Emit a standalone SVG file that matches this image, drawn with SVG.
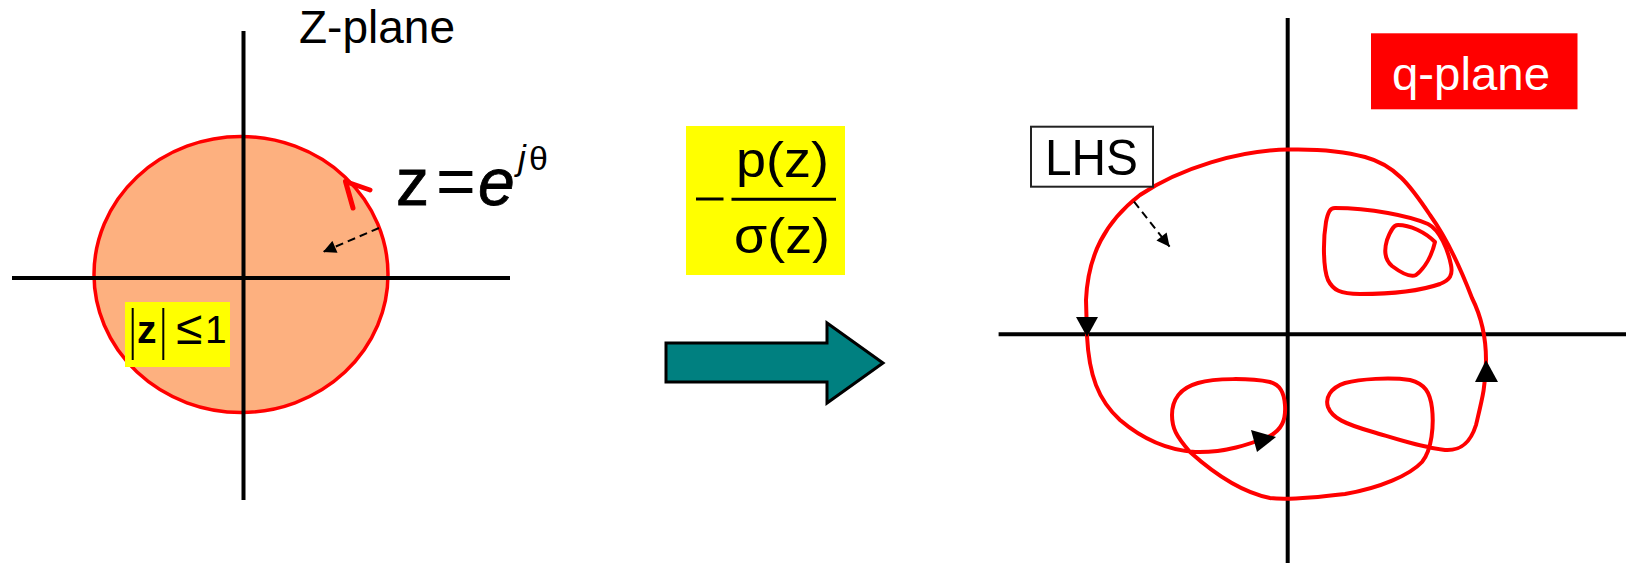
<svg xmlns="http://www.w3.org/2000/svg" width="1626" height="563" viewBox="0 0 1626 563">
<style>
text{font-family:"Liberation Sans",Arial,sans-serif;fill:#000}
.axis{stroke:#000;stroke-width:4;fill:none}
.red{stroke:#FF0000;stroke-width:4;fill:none;stroke-linejoin:round}
.dash{stroke:#000;stroke-width:2;stroke-dasharray:8 5;fill:none}
.tri{fill:#000;stroke:none}
.heavy{stroke:#000;stroke-width:0.8}
</style>
<defs>
<marker id="ah" viewBox="0 0 10 10" refX="10" refY="5" markerUnits="userSpaceOnUse" markerWidth="15" markerHeight="13" orient="auto">
<path d="M0,0 L10,5 L0,10 z" fill="#000"/>
</marker>
</defs>
<rect width="1626" height="563" fill="#fff"/>

<g id="z-plane">
<ellipse cx="241" cy="274.5" rx="147" ry="138" fill="#FDB07F" stroke="#FF0000" stroke-width="3.5"/>
<line class="axis" x1="243.5" y1="31" x2="243.5" y2="500"/>
<line class="axis" x1="12" y1="278" x2="510" y2="278"/>
<path d="M353,208 L345.5,181.5 L370,190" fill="none" stroke="#FF0000" stroke-width="5" stroke-linecap="round" stroke-linejoin="round"/>
<text x="299" y="43" font-size="46">Z-plane</text>
</g>

<g id="z-eq">
<text class="heavy" x="396" y="205" font-size="66" textLength="33" lengthAdjust="spacingAndGlyphs">z</text>
<text x="436" y="205" font-size="68">=</text>
<text class="heavy" x="478" y="205" font-size="66" font-style="italic">e</text>
<text x="518" y="170" font-size="35" font-style="italic">j</text>
<text x="529" y="170" font-size="34">θ</text>
</g>

<g id="unit-disk-label">
<rect x="125" y="302" width="105" height="65" fill="#FFFF00"/>
<line x1="132.7" y1="308" x2="132.7" y2="360" stroke="#000" stroke-width="2"/>
<line x1="163.3" y1="308" x2="163.3" y2="360" stroke="#000" stroke-width="2"/>
<text x="137" y="343" font-size="39" font-weight="bold">z</text>
<text x="176" y="344" font-size="48">≤</text>
<text x="205" y="343" font-size="39">1</text>
</g>

<g id="transfer-fn">
<rect x="686" y="126" width="159" height="149" fill="#FFFF00"/>
<line x1="696" y1="199" x2="723.5" y2="199" stroke="#000" stroke-width="3"/>
<line x1="731.5" y1="199.3" x2="836" y2="199.3" stroke="#000" stroke-width="3"/>
<text x="736" y="177" font-size="50" textLength="93" lengthAdjust="spacingAndGlyphs">p(z)</text>
<text x="734" y="253" font-size="50" textLength="96" lengthAdjust="spacingAndGlyphs">σ(z)</text>
</g>

<g id="map-arrow">
<polygon points="666,343 827,343 827,323 883,363 827,403 827,382 666,382" fill="#008080" stroke="#000" stroke-width="3" stroke-linejoin="miter"/>
</g>

<g id="q-plane">
<line class="axis" x1="1287.7" y1="18" x2="1287.7" y2="563"/>
<line class="axis" x1="998.6" y1="334.3" x2="1626" y2="334.3"/>
<path class="red" d="M1288,149.5 C1240,150 1180,168 1140,195 C1105,222 1088,255 1086,300 L1087,336 C1089,375 1098,400 1120,420 C1140,437 1165,450 1195,452 C1225,453 1250,444 1268,437 C1282,430 1286,420 1285,405 C1284,392 1280,385 1270,382 C1250,378 1215,378 1198,383 C1180,388 1172,400 1172,415 C1172,428 1176,436 1190,452 C1210,470 1240,492 1270,498 C1285,500 1320,497 1345,494 C1380,488 1410,475 1422,462 C1432,450 1434,425 1432,408 C1430,392 1425,384 1410,380 C1390,377 1360,379 1345,383 C1330,388 1325,398 1328,407 C1332,418 1345,424 1373,432 C1400,440 1420,447 1445,450 C1460,451 1470,444 1476,425 C1482,400 1486,385 1486,360 C1486,340 1482,318 1472,298 C1462,272 1448,240 1430,215 C1410,185 1395,165 1365,157 C1340,150 1310,149 1288,149.5 Z"/>
<path class="red" d="M1335,208 C1370,208 1410,216 1428,224 C1440,230 1448,250 1451,265 C1453,275 1450,280 1440,284 C1420,291 1395,294 1360,294 C1340,294 1333,290 1328,280 C1323,268 1323,240 1326,222 C1328,212 1330,208 1335,208 Z"/>
<path class="red" d="M1398,225 C1410,225 1425,232 1435,242 C1432,255 1425,268 1416,275 C1410,278 1400,272 1392,266 C1385,260 1384,250 1387,240 C1390,232 1393,225 1398,225 Z"/>
<polygon class="tri" points="1076,317 1098,317 1087,337"/>
<polygon class="tri" points="1251,430 1276,437 1257,452"/>
<polygon class="tri" points="1486,360 1475,382 1498,382"/>
</g>

<g id="q-plane-label">
<rect x="1371" y="33.3" width="206.5" height="76" fill="#FF0000"/>
<text x="1392" y="90" font-size="47" textLength="158" lengthAdjust="spacingAndGlyphs" style="fill:#fff">q-plane</text>
</g>

<g id="lhs-label">
<rect x="1031" y="126.7" width="122" height="60" fill="#fff" stroke="#222" stroke-width="2"/>
<text x="1045" y="175" font-size="50" textLength="93" lengthAdjust="spacingAndGlyphs">LHS</text>
</g>

<g id="connectors">
<line class="dash" x1="379" y1="228" x2="323" y2="252" marker-end="url(#ah)"/>
<line class="dash" x1="1134" y1="201.7" x2="1169.6" y2="246.7" marker-end="url(#ah)"/>
</g>
</svg>
